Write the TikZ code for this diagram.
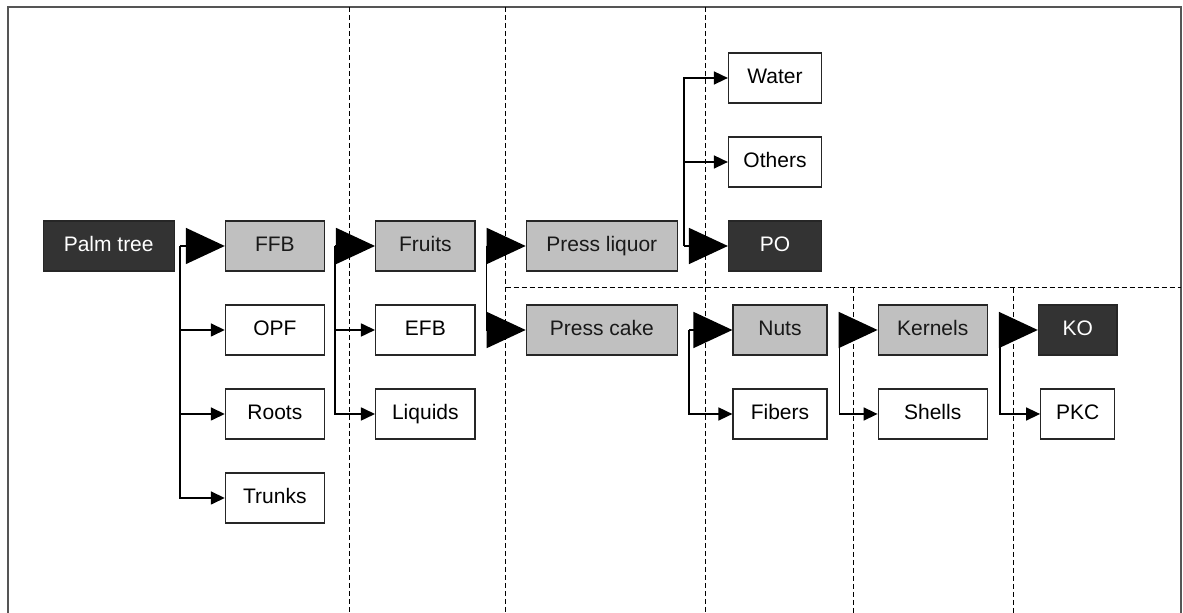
\documentclass[tikz,border=0pt]{standalone}
\usepackage{fontspec}
\setmainfont{Liberation Sans}
\usetikzlibrary{matrix,calc,arrows.meta}

\definecolor{boxdark}{HTML}{333333}
\definecolor{boxgrey}{HTML}{C0C0C0}
\definecolor{framegrey}{HTML}{555555}

\tikzstyle{box}=[rectangle,draw=black!85,line width=0.6pt,minimum height=25pt,inner sep=2pt,font=\fontsize{10.5pt}{12pt}\selectfont]
\tikzstyle{oil}=[box,fill=boxdark,text=white]
\tikzstyle{stage}=[box,fill=boxgrey,text=black!90]
\tikzstyle{residue}=[box,fill=white]
\tikzstyle{feed}=[line width=0.8pt,-{Triangle[length=19.5pt,width=18pt]}]
\tikzstyle{branch}=[line width=0.8pt,->]
\tikzstyle{divider}=[dash pattern=on 2.5pt off 1.5pt,line width=0.5pt]

\begin{document}
\begin{tikzpicture}[>={Triangle[length=7pt,width=6.5pt]},text height=1.2ex,text depth=0.25ex]
  \matrix (m) [row sep=16.4pt,column sep=25pt,
    column 1/.style={nodes={minimum width=65.5pt}},
    column 2/.style={nodes={minimum width=49.5pt}},
    column 3/.style={nodes={minimum width=49.75pt}},
    column 4/.style={nodes={minimum width=75.5pt}},
    column 5/.style={nodes={minimum width=46.5pt}},
    column 6/.style={nodes={minimum width=54.5pt}},
    column 7/.style={nodes={minimum width=37pt}}] {
    & & & & \node (water) [residue] {Water}; & & \\
    & & & & \node (others) [residue] {Others}; & & \\
    \node (palm) [oil] {Palm tree}; &
    \node (ffb) [stage] {FFB}; &
    \node (fruits) [stage] {Fruits}; &
    \node (pliquor) [stage] {Press liquor}; &
    \node (po) [oil] {PO}; & & \\
    & \node (opf) [residue] {OPF}; &
    \node (efb) [residue] {EFB}; &
    \node (pcake) [stage] {Press cake}; &
    \node (nuts) [stage,xshift=2.5pt,minimum width=47pt] {Nuts}; &
    \node (kernels) [stage] {Kernels}; &[2.5pt]
    \node (ko) [oil,minimum width=39.3pt] {KO}; \\
    & \node (roots) [residue] {Roots}; &
    \node (liquids) [residue] {Liquids}; & &
    \node (fibers) [residue,xshift=2.5pt,minimum width=47pt] {Fibers}; &
    \node (shells) [residue] {Shells}; &[2.5pt]
    \node (pkc) [residue] {PKC}; \\
    & \node (trunks) [residue] {Trunks}; & & & & & \\
  };

  % frame and page size
  \path[use as bounding box] ($(palm.center)+(-54.35pt,123pt)$) rectangle ($(palm.center)+(537.15pt,-183.5pt)$);
  \coordinate (nw) at ($(palm.center)+(-50.4pt,119.5pt)$);
  \coordinate (ne) at ($(palm.center)+(536.1pt,119.5pt)$);
  \coordinate (sw) at ($(palm.center)+(-50.4pt,-183.5pt)$);
  \coordinate (se) at ($(palm.center)+(536.1pt,-183.5pt)$);
  \draw[framegrey,line width=0.8pt] (sw) -- (nw) -- (ne) -- (se);

  % dashed dividers
  \coordinate (d1) at ($(ffb.east)!.5!(fruits.west)$);
  \coordinate (d2) at ($(fruits.east)!.6!(pliquor.west)$);
  \coordinate (d3) at ($(pliquor.east)!.56!(po.west)$);
  \coordinate (d4) at ($(nuts.east)!.51!(kernels.west)$);
  \coordinate (d5) at ($(kernels.east)!.52!(ko.west)$);
  \coordinate (h) at ($(po.south)!.5!(nuts.north)$);
  \draw[divider] (d1 |- nw) -- (d1 |- sw);
  \draw[divider] (d2 |- nw) -- (d2 |- sw);
  \draw[divider] (d3 |- nw) -- (d3 |- sw);
  \draw[divider] (d2 |- h) -- (ne |- h);
  \draw[divider] (d4 |- h) -- (d4 |- sw);
  \draw[divider] (d5 |- h) -- (d5 |- sw);

  % split points
  \coordinate (s1) at ($(palm.east)+(2.5pt,0)$);
  \coordinate (s2) at ($(ffb.east)+(5pt,0)$);
  \coordinate (s3) at ($(fruits.east)+(5.5pt,0)$);
  \coordinate (s4) at ($(pliquor.east)+(3pt,0)$);
  \coordinate (s5) at ($(pcake.east)+(5.5pt,0)$);
  \coordinate (s6) at ($(nuts.east)+(6pt,0)$);
  \coordinate (s7) at ($(kernels.east)+(6pt,0)$);

  \draw[feed] (s1) -- (ffb);
  \draw[branch] (s1) |- (opf);
  \draw[branch] (s1) |- (roots);
  \draw[branch] (s1) |- (trunks);

  \draw[feed] (s2) -- (fruits);
  \draw[branch] (s2) |- (efb);
  \draw[branch] (s2) |- (liquids);

  \draw[feed] (s3) -- (pliquor);
  \draw[feed] (s3) |- (pcake);

  \draw[feed] (s4) -- (po);
  \draw[branch] (s4) |- (water);
  \draw[branch] (s4) |- (others);

  \draw[feed] (s5) -- (nuts);
  \draw[branch] (s5) |- (fibers);

  \draw[feed] (s6) -- (kernels);
  \draw[branch] (s6) |- (shells);

  \draw[feed] (s7) -- (ko);
  \draw[branch] (s7) |- (pkc);
\end{tikzpicture}
\end{document}
